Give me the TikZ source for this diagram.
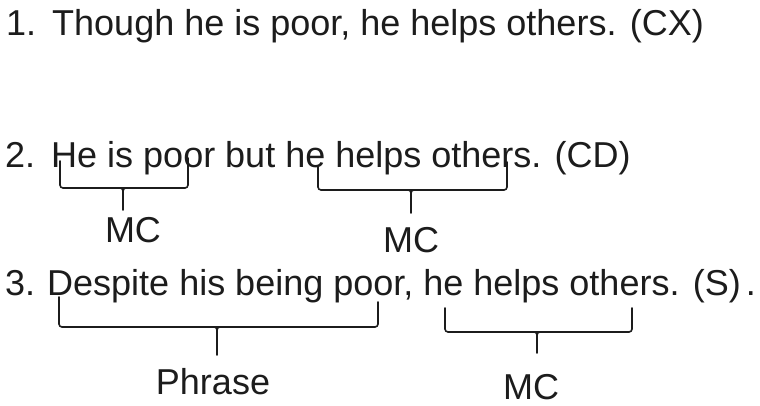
\documentclass[tikz,border=0pt]{standalone}
\usepackage{fontspec}
\setmainfont{Liberation Sans}
\definecolor{ink}{HTML}{1C1C1C}
\begin{document}
\begin{tikzpicture}[x=1pt,y=-1pt,
  bline/.style={draw=ink, line width=1.6pt, rounded corners=3pt, line cap=round},
  sline/.style={draw=ink, line width=1.6pt, line cap=round},
  txt/.style={anchor=base west, inner sep=0pt, text=ink, font=\fontsize{36}{40}\selectfont},
  lab/.style={anchor=base, inner sep=0pt, text=ink, font=\fontsize{36}{40}\selectfont}]
\fill[white] (0,0) rectangle (760,405);
\useasboundingbox (0,0) rectangle (760,405);

% sentences
\node[txt] (s1) at (6,35) {1.\hspace{16pt}Though he is poor, he helps others. (CX)};
\node[txt] (s2) at (5,167) {2.\hspace{16pt}He is poor but he helps others. (CD)};
\node[txt] (s3) at (5,295) {3.\hspace{12pt}Despite his being poor, he helps others. (S)\hspace{5pt}.};

% labels
\node[lab] (l1) at (133,242) {MC};
\node[lab] (l2) at (411,252) {MC};
\node[lab] (l3) at (213,394) {Phrase};
\node[lab] (l4) at (531,399) {MC};

% bracket 1 (line 2, left)
\coordinate (a1) at (60,161); \coordinate (a2) at (188,158);
\draw[bline] (a1) -- (60,188) -- (188,188) -- (a2);
\draw[sline] (117,188) .. controls (123,188) .. (123,195);
\draw[sline] (129,188) .. controls (123,188) .. (123,195);
\coordinate (a3) at (123,210);
\draw[sline] (123,195) -- (a3);

% bracket 2 (line 2, right)
\coordinate (c1) at (318,167); \coordinate (c2) at (507,162);
\draw[bline] (c1) -- (318,190) -- (507,190) -- (c2);
\draw[sline] (405,190) .. controls (411,190) .. (411,197);
\draw[sline] (417,190) .. controls (411,190) .. (411,197);
\coordinate (c3) at (411,213);
\draw[sline] (411,197) -- (c3);

% bracket 3 (line 3, left)
\coordinate (d1) at (59,297); \coordinate (d2) at (378,302);
\draw[bline] (d1) -- (59,327) -- (378,327) -- (d2);
\draw[sline] (211,327) .. controls (217,327) .. (217,334);
\draw[sline] (223,327) .. controls (217,327) .. (217,334);
\coordinate (d3) at (217,355);
\draw[sline] (217,334) -- (d3);

% bracket 4 (line 3, right)
\coordinate (e1) at (445,308); \coordinate (e2) at (632,308);
\draw[bline] (e1) -- (445,332) -- (632,332) -- (e2);
\draw[sline] (531,332) .. controls (537,332) .. (537,339);
\draw[sline] (543,332) .. controls (537,332) .. (537,339);
\coordinate (e3) at (537,353);
\draw[sline] (537,339) -- (e3);
\end{tikzpicture}
\end{document}
